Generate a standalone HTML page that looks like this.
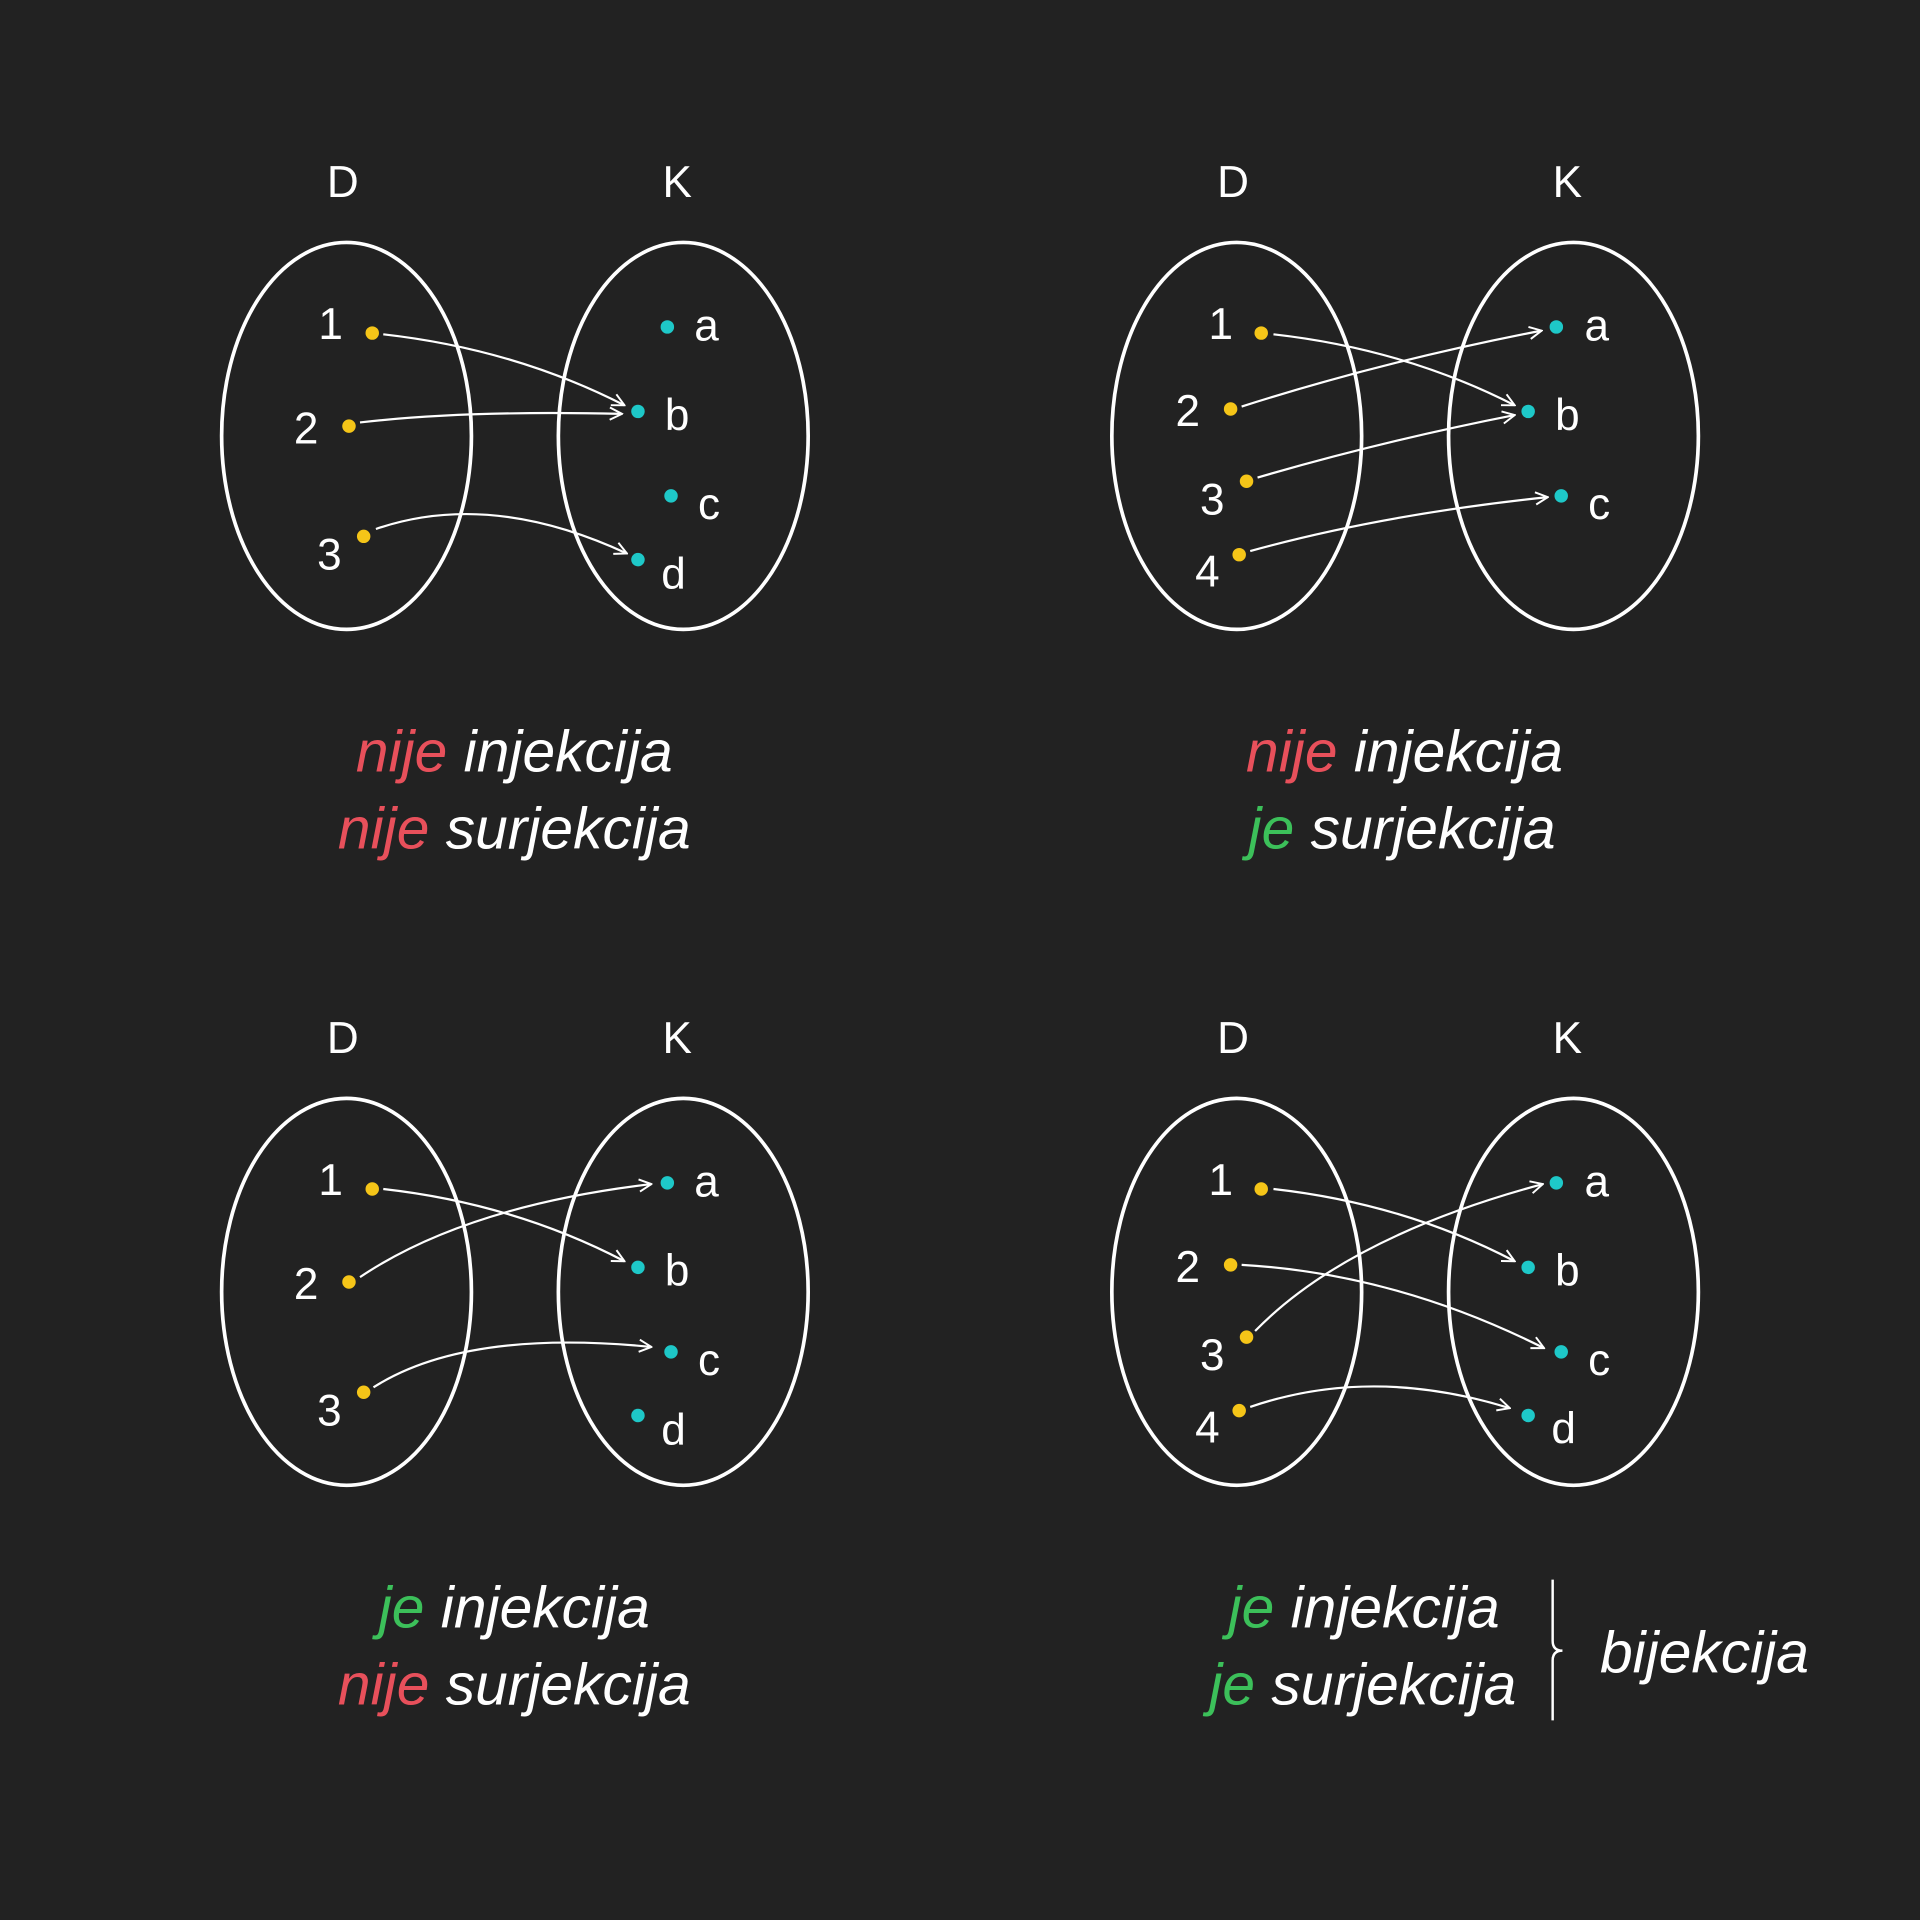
<!DOCTYPE html>
<html><head><meta charset="utf-8"><style>
html,body{margin:0;padding:0;background:#222222;}
svg{display:block;}
text{font-family:"Liberation Sans",sans-serif;fill:#ffffff;}
.l{font-size:36px;}
.t{font-size:48px;font-style:italic;}
</style></head><body>
<svg width="1920" height="1920" viewBox="0 0 1568 1568" xmlns="http://www.w3.org/2000/svg">
<defs>
<marker id="ar" viewBox="0 0 12 12" refX="11" refY="6" markerWidth="12" markerHeight="12" markerUnits="userSpaceOnUse" orient="auto">
<path d="M1,1 L11,6 L1,11" fill="none" stroke="#fff" stroke-width="1.6"/>
</marker>
</defs>
<rect width="1568" height="1568" fill="#222222"/>
<g fill="none" stroke="#fff" stroke-width="3">
<ellipse cx="283" cy="356" rx="102" ry="158"/><ellipse cx="558" cy="356" rx="102" ry="158"/>
<ellipse cx="1010" cy="356" rx="102" ry="158"/><ellipse cx="1285" cy="356" rx="102" ry="158"/>
<ellipse cx="283" cy="1055" rx="102" ry="158"/><ellipse cx="558" cy="1055" rx="102" ry="158"/>
<ellipse cx="1010" cy="1055" rx="102" ry="158"/><ellipse cx="1285" cy="1055" rx="102" ry="158"/>
</g>
<g class="l" text-anchor="middle">
<text x="280" y="161">D</text><text x="553" y="161">K</text>
<text x="1007" y="161">D</text><text x="1280" y="161">K</text>
<text x="280" y="860">D</text><text x="553" y="860">K</text>
<text x="1007" y="860">D</text><text x="1280" y="860">K</text>
</g>
<g fill="none" stroke="#fff" stroke-width="1.8" marker-end="url(#ar)">
<path d="M313,273 Q420,285 510,331"/>
<path d="M294,345 Q380,335 508,338"/>
<path d="M307,432 Q400,400 512,452"/>

<path d="M1040,273 Q1147,285 1237,331"/>
<path d="M1014,332 Q1130,295 1259,270"/>
<path d="M1027,390 Q1130,360 1237,339"/>
<path d="M1021,450 Q1130,420 1264,406"/>

<path d="M313,971 Q420,983 510,1030"/>
<path d="M294,1043 Q380,985 532,967"/>
<path d="M305,1133 Q380,1085 532,1100"/>

<path d="M1040,971 Q1147,983 1237,1030"/>
<path d="M1014,1033 Q1140,1040 1261,1101"/>
<path d="M1025,1087 Q1100,1010 1260,967"/>
<path d="M1021,1149 Q1120,1115 1233,1150"/>
</g>
<g fill="#f5c518">
<circle cx="304" cy="272" r="5.5"/><circle cx="285" cy="348" r="5.5"/><circle cx="297" cy="438" r="5.5"/>
<circle cx="1030" cy="272" r="5.5"/><circle cx="1005" cy="334" r="5.5"/><circle cx="1018" cy="393" r="5.5"/><circle cx="1012" cy="453" r="5.5"/>
<circle cx="304" cy="971" r="5.5"/><circle cx="285" cy="1047" r="5.5"/><circle cx="297" cy="1137" r="5.5"/>
<circle cx="1030" cy="971" r="5.5"/><circle cx="1005" cy="1033" r="5.5"/><circle cx="1018" cy="1092" r="5.5"/><circle cx="1012" cy="1152" r="5.5"/>
</g>
<g fill="#1ec8c8">
<circle cx="545" cy="267" r="5.5"/><circle cx="521" cy="336" r="5.5"/><circle cx="548" cy="405" r="5.5"/><circle cx="521" cy="457" r="5.5"/>
<circle cx="1271" cy="267" r="5.5"/><circle cx="1248" cy="336" r="5.5"/><circle cx="1275" cy="405" r="5.5"/>
<circle cx="545" cy="966" r="5.5"/><circle cx="521" cy="1035" r="5.5"/><circle cx="548" cy="1104" r="5.5"/><circle cx="521" cy="1156" r="5.5"/>
<circle cx="1271" cy="966" r="5.5"/><circle cx="1248" cy="1035" r="5.5"/><circle cx="1275" cy="1104" r="5.5"/><circle cx="1248" cy="1156" r="5.5"/>
</g>
<g class="l" text-anchor="middle">
<text x="270" y="277">1</text><text x="250" y="362">2</text><text x="269" y="465">3</text>
<text x="577" y="278">a</text><text x="553" y="351">b</text><text x="579" y="424">c</text><text x="550" y="481">d</text>

<text x="997" y="277">1</text><text x="970" y="348">2</text><text x="990" y="420">3</text><text x="986" y="479">4</text>
<text x="1304" y="278">a</text><text x="1280" y="351">b</text><text x="1306" y="424">c</text>

<text x="270" y="976">1</text><text x="250" y="1061">2</text><text x="269" y="1164">3</text>
<text x="577" y="977">a</text><text x="553" y="1050">b</text><text x="579" y="1123">c</text><text x="550" y="1180">d</text>

<text x="997" y="976">1</text><text x="970" y="1047">2</text><text x="990" y="1119">3</text><text x="986" y="1178">4</text>
<text x="1304" y="977">a</text><text x="1280" y="1050">b</text><text x="1306" y="1123">c</text><text x="1277" y="1179">d</text>
</g>
<g class="t" text-anchor="middle">
<text x="420" y="630"><tspan fill="#e8505b">nije</tspan> injekcija</text>
<text x="420" y="693"><tspan fill="#e8505b">nije</tspan> surjekcija</text>
<text x="1147" y="630"><tspan fill="#e8505b">nije</tspan> injekcija</text>
<text x="1145" y="693"><tspan fill="#3cc05a">je</tspan> surjekcija</text>
<text x="420" y="1329"><tspan fill="#3cc05a">je</tspan> injekcija</text>
<text x="420" y="1392"><tspan fill="#e8505b">nije</tspan> surjekcija</text>
<text x="1114" y="1329"><tspan fill="#3cc05a">je</tspan> injekcija</text>
<text x="1113" y="1392"><tspan fill="#3cc05a">je</tspan> surjekcija</text>
<text x="1392" y="1366">bijekcija</text>
</g>
<path d="M1268,1290 L1268,1340 Q1268,1348 1276,1348 Q1268,1348 1268,1356 L1268,1405" fill="none" stroke="#fff" stroke-width="2"/>
</svg>
</body></html>
